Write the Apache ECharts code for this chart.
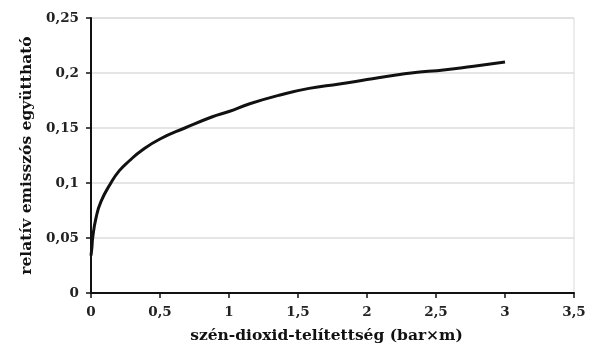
<!DOCTYPE html>
<html>
<head>
<meta charset="utf-8">
<script src="https://cdn.jsdelivr.net/npm/echarts@6/dist/echarts.min.js"></script>
<style>
  html, body { margin: 0; padding: 0; background: #fff; }
  #main { width: 600px; height: 357px; }
</style>
</head>
<body>
<div id="main"></div>
<script>
// értékek
var xValues = [0, 0.007, 0.012, 0.036, 0.072, 0.144, 0.204, 0.276, 0.372, 0.5, 0.68, 0.875, 1.0, 1.15, 1.37, 1.58, 1.8, 2.0, 2.2, 2.32, 2.57, 2.76, 3.0];
var yValues = [0.034, 0.042, 0.05, 0.068, 0.083, 0.1, 0.111, 0.12, 0.13, 0.14, 0.15, 0.16, 0.165, 0.172, 0.18, 0.186, 0.19, 0.194, 0.198, 0.2, 0.203, 0.206, 0.21];
var xTitle = 'szén-dioxid-telítettség (bar×m)';
var yTitle = 'relatív emisszós együttható';

var points = xValues.map(function (x, i) { return [x, yValues[i]]; });

function comma(v) {
  return String(v).replace('.', ',');
}

var font = 'DejaVu Serif';
var myChart = echarts.init(document.getElementById('main'));

var option = {
  backgroundColor: '#fff',
  animation: false,
  grid: {
    left: 91, right: 26, top: 18, bottom: 64,
    outerBoundsMode: 'none',
    show: true, borderColor: '#d9d9d9', borderWidth: 1
  },
  xAxis: {
    type: 'value',
    min: 0, max: 3.5, interval: 0.5,
    name: xTitle,
    nameLocation: 'middle',
    nameGap: 35,
    nameTextStyle: { fontFamily: font, fontWeight: 'bold', fontSize: 15.5, color: '#111', padding: [0, 12, 0, 0] },
    axisLine: { lineStyle: { color: '#111', width: 2 } },
    axisTick: { show: true, length: 5, lineStyle: { color: '#111', width: 1.5 } },
    axisLabel: { formatter: comma, fontFamily: font, fontWeight: 'bold', fontSize: 13.5, color: '#222', margin: 12 },
    splitLine: { show: false }
  },
  yAxis: {
    type: 'value',
    min: 0, max: 0.25, interval: 0.05,
    name: yTitle,
    nameLocation: 'middle',
    nameGap: 53,
    nameTextStyle: { fontFamily: font, fontWeight: 'bold', fontSize: 15.5, color: '#111' },
    axisLine: { show: true, lineStyle: { color: '#111', width: 2 } },
    axisTick: { show: true, length: 5, lineStyle: { color: '#111', width: 1.5 } },
    axisLabel: { formatter: comma, fontFamily: font, fontWeight: 'bold', fontSize: 13.5, color: '#222', margin: 12 },
    splitLine: { show: true, lineStyle: { color: '#dcdcdc', width: 1.5 } }
  },
  series: [{
    type: 'line',
    data: points,
    smooth: true,
    showSymbol: false,
    lineStyle: { color: '#111', width: 3 }
  }]
};

myChart.setOption(option);
</script>
</body>
</html>
